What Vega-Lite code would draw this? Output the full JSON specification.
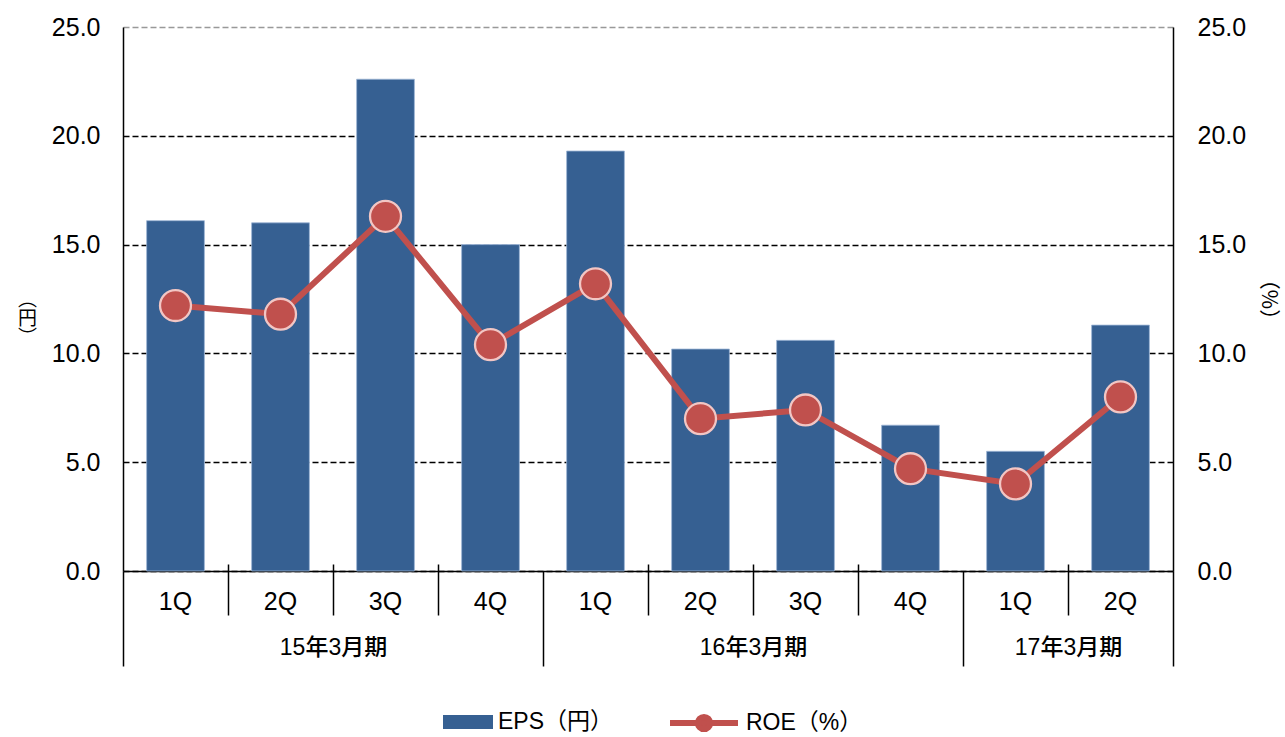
{
  "$schema": "https://vega.github.io/schema/vega-lite/v6.json",
  "width": 1050,
  "height": 544,
  "autosize": {"type": "none"},
  "padding": {"left": 123, "top": 27, "right": 112, "bottom": 166},
  "config": {
    "view": {"stroke": null},
    "axis": {
      "labelFont": "Liberation Sans, Noto Sans CJK JP",
      "titleFont": "Noto Sans CJK JP",
      "labelColor": "#000",
      "titleColor": "#000",
      "titleFontWeight": "normal",
      "domainColor": "#000"
    },
    "legend": {"labelFont": "Liberation Sans, Noto Sans CJK JP", "labelColor": "#000"}
  },
  "data": {
    "values": [
      {"key": "15-1Q", "eps": 16.1, "roe": 12.2},
      {"key": "15-2Q", "eps": 16.0, "roe": 11.8},
      {"key": "15-3Q", "eps": 22.6, "roe": 16.3},
      {"key": "15-4Q", "eps": 15.0, "roe": 10.4},
      {"key": "16-1Q", "eps": 19.3, "roe": 13.2},
      {"key": "16-2Q", "eps": 10.2, "roe": 7.0},
      {"key": "16-3Q", "eps": 10.6, "roe": 7.4},
      {"key": "16-4Q", "eps": 6.7, "roe": 4.7},
      {"key": "17-1Q", "eps": 5.5, "roe": 4.0},
      {"key": "17-2Q", "eps": 11.3, "roe": 8.0}
    ]
  },
  "layer": [
    {
      "mark": {"type": "bar", "stroke": "#9DB5D6", "strokeWidth": 0.8},
      "encoding": {
        "x": {
          "field": "key", "type": "nominal", "sort": null,
          "scale": {"type": "band", "paddingInner": 0.45, "paddingOuter": 0.225},
          "axis": {
            "orient": "bottom", "domain": false, "ticks": false,
            "labelExpr": "isString(datum.value) ? slice(datum.value, -2) : ''",
            "labelAngle": 0, "labelFontSize": 25, "labelPadding": 18,
            "title": null, "grid": false
          }
        },
        "y": {
          "field": "eps", "type": "quantitative",
          "scale": {"domain": [0, 25], "nice": false},
          "axis": {
            "orient": "left", "values": [0, 5, 10, 15, 20, 25], "format": ".1f",
            "grid": true, "gridDash": [6, 3], "gridWidth": 1.3,
            "gridColor": {"condition": {"test": "datum.value == 25", "value": "#999999"}, "value": "#000000"},
            "ticks": false, "domain": true, "domainWidth": 1.5,
            "labelFontSize": 25, "labelPadding": 23,
            "title": ["︵", "円", "︶"], "titleAngle": 0, "titleFontSize": 19,
            "titleLineHeight": 19, "titleAlign": "center", "titleBaseline": "middle",
            "titleX": -96, "titleY": 272
          }
        },
        "fill": {
          "datum": "EPS（円）", "type": "nominal",
          "scale": {"range": ["#366092"]},
          "legend": {
            "orient": "none", "legendX": 320, "legendY": 670, "title": null,
            "symbolType": "M-1,-0.28H1V0.28H-1Z", "symbolSize": 2500,
            "symbolStrokeWidth": 0, "labelFontSize": 23, "labelOffset": 5
          }
        }
      }
    },
    {
      "mark": {"type": "line", "strokeWidth": 6},
      "encoding": {
        "x": {
          "field": "key", "type": "nominal", "sort": null,
          "scale": {"type": "band", "paddingInner": 0.45, "paddingOuter": 0.225},
          "axis": null
        },
        "y": {
          "field": "roe", "type": "quantitative",
          "scale": {"domain": [0, 25], "nice": false},
          "axis": {
            "orient": "right", "values": [0, 5, 10, 15, 20, 25], "format": ".1f",
            "grid": false, "ticks": false, "domain": true, "domainWidth": 1.5,
            "labelFontSize": 25, "labelPadding": 24,
            "title": "（%）", "titleAngle": 90, "titleFontSize": 21, "titlePadding": 12
          }
        },
        "stroke": {
          "datum": "ROE（%）", "type": "nominal",
          "scale": {"range": ["#C0504D"]},
          "legend": {
            "orient": "none", "legendX": 544, "legendY": 659, "title": null,
            "symbolType": "M-1,0H-0.18M0.18,0H1M0.18,0A0.18,0.18 0 1,1 -0.18,0A0.18,0.18 0 1,1 0.18,0",
            "symbolSize": 4624, "symbolStrokeWidth": 6, "symbolFillColor": "#C0504D",
            "labelFontSize": 23, "labelOffset": 5
          }
        }
      }
    },
    {
      "mark": {"type": "point", "filled": true, "size": 960, "fill": "#C0504D", "stroke": "#F2C6C4", "strokeWidth": 2.3, "opacity": 1},
      "encoding": {
        "x": {
          "field": "key", "type": "nominal", "sort": null,
          "scale": {"type": "band", "paddingInner": 0.45, "paddingOuter": 0.225},
          "axis": null
        },
        "y": {"field": "roe", "type": "quantitative", "scale": {"domain": [0, 25], "nice": false}, "axis": null}
      }
    },
    {
      "data": {"values": [{"p": 0}, {"p": 10}]},
      "mark": {"type": "rule", "opacity": 0},
      "encoding": {
        "x": {
          "field": "p", "type": "quantitative",
          "scale": {"domain": [0, 10], "nice": false, "zero": false},
          "axis": {
            "orient": "bottom", "offset": -7, "values": [1, 2, 3, 5, 6, 7, 9],
            "tickSize": 51, "tickWidth": 1.5, "tickColor": "#000",
            "domain": false, "labels": false, "grid": false, "title": null
          }
        }
      }
    },
    {
      "data": {"values": [{"p": 0}, {"p": 10}]},
      "mark": {"type": "rule", "opacity": 0},
      "encoding": {
        "x": {
          "field": "p", "type": "quantitative",
          "scale": {"domain": [0, 10], "nice": false, "zero": false},
          "axis": {
            "orient": "bottom", "values": [0, 4, 8, 10],
            "tickSize": 95, "tickWidth": 1.5, "tickColor": "#000",
            "domain": true, "domainWidth": 1.5, "domainColor": "#000",
            "labels": false, "grid": false, "title": null
          }
        }
      }
    },
    {
      "data": {"values": [{"p": 0}, {"p": 10}]},
      "mark": {"type": "rule", "opacity": 0},
      "encoding": {
        "x": {
          "field": "p", "type": "quantitative",
          "scale": {"domain": [0, 10], "nice": false, "zero": false},
          "axis": {
            "orient": "bottom", "values": [2, 6, 9], "ticks": false, "domain": false,
            "labelExpr": "datum.value == 2 ? '15年3月期' : datum.value == 6 ? '16年3月期' : '17年3月期'",
            "labelOverlap": false, "labelFlush": false, "labelBound": false,
            "labelPadding": 65, "labelFontSize": 23, "labelFontWeight": 500,
            "grid": false, "title": null
          }
        }
      }
    }
  ],
  "resolve": {"scale": {"x": "independent", "y": "independent"}}
}
